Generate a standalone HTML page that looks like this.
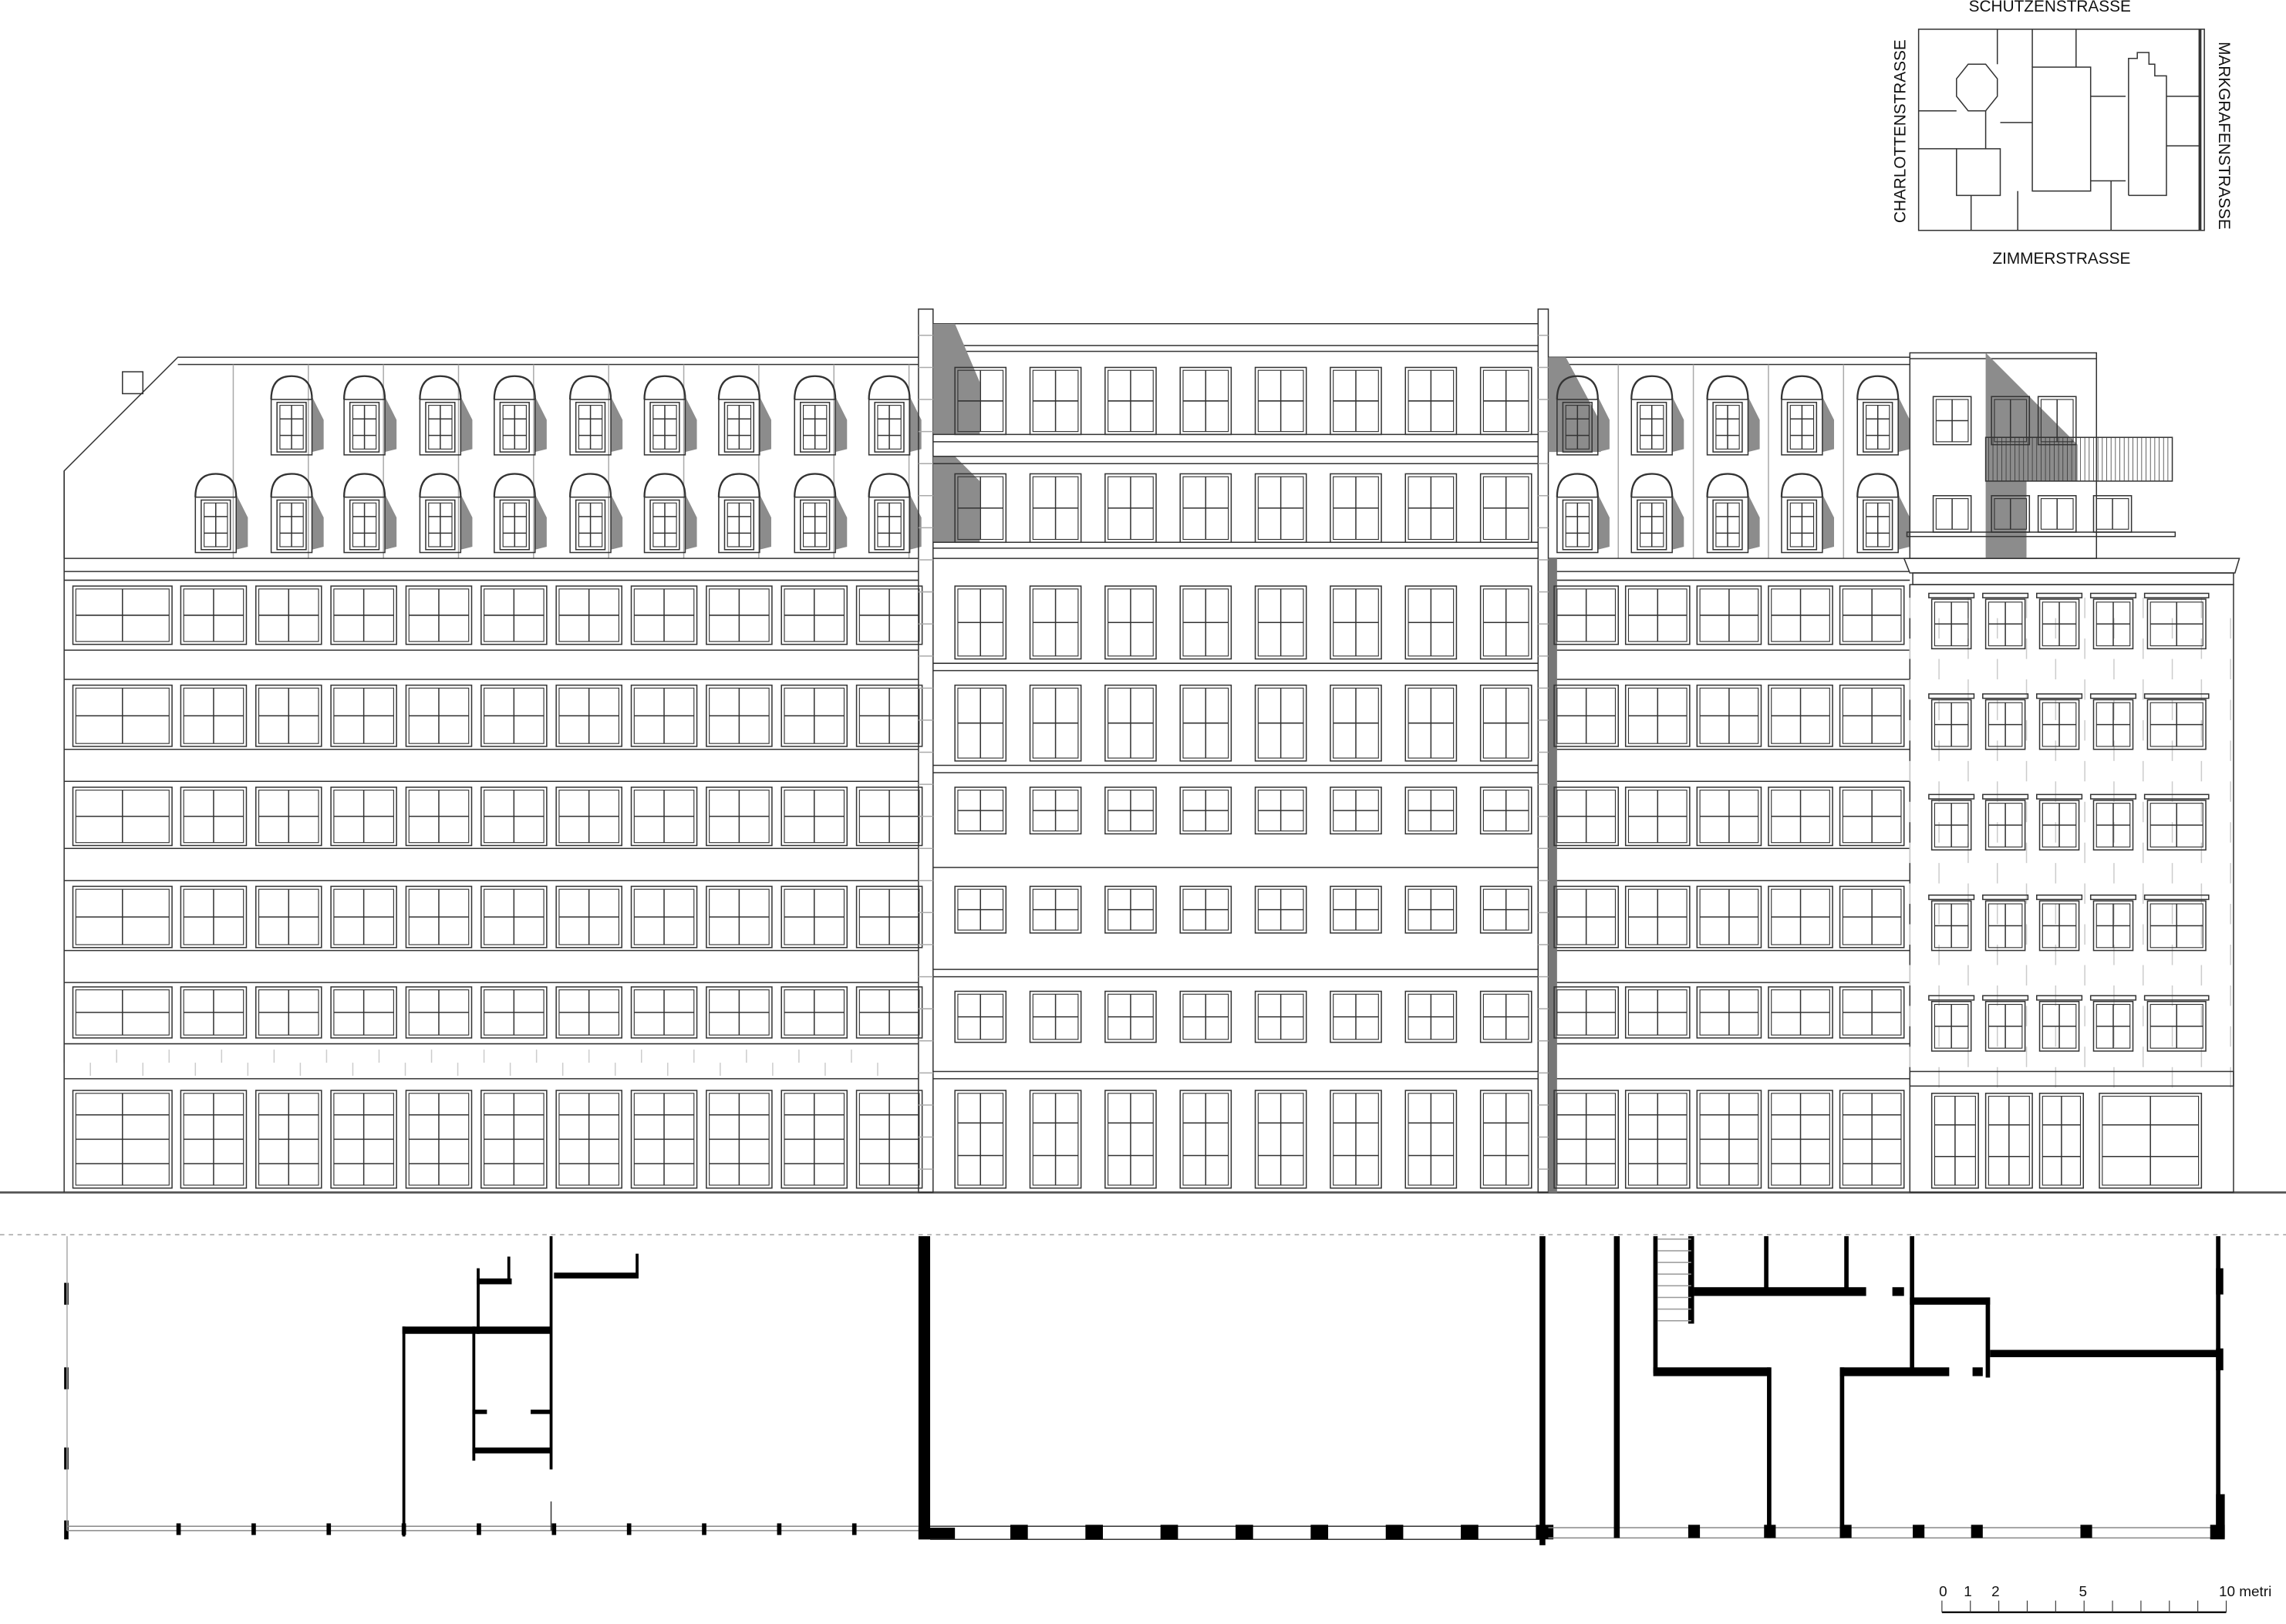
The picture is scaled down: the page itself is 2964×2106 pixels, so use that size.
<!DOCTYPE html>
<html><head><meta charset="utf-8">
<style>html,body{margin:0;padding:0;background:#fff;}svg{display:block}</style></head>
<body>
<svg id="s" width="2964" height="2106" viewBox="0 0 1568 1114" xmlns="http://www.w3.org/2000/svg" font-family="Liberation Sans, sans-serif">
<g id="g" fill="none" stroke="#333" stroke-width="0.8"></g>
<g fill="none" stroke="#333" stroke-width="0.8">
<rect x="1316" y="20" width="196" height="138"/>
<line x1="1509" y1="20" x2="1509" y2="158" stroke-width="2"/>
<polygon points="1350,44 1362,44 1370,54 1370,66 1362,76 1350,76 1342,66 1342,54"/>
<polyline points="1316,76 1342,76"/><polyline points="1370,44 1370,20"/>
<rect x="1342" y="102" width="30" height="32"/><polyline points="1316,102 1342,102"/><polyline points="1352,134 1352,158"/>
<polyline points="1362,76 1362,102"/><polyline points="1372,84 1394,84"/>
<rect x="1394" y="46" width="40" height="85"/><polyline points="1394,46 1394,20"/><polyline points="1384,131 1384,158"/>
<polyline points="1434,66 1458,66"/><polyline points="1434,124 1458,124"/><polyline points="1448,124 1448,158"/>
<polyline points="1460,134 1460,40 1466,40 1466,36 1474,36 1474,44 1478,44 1478,52 1486,52 1486,134 1460,134"/>
<polyline points="1486,66 1509,66"/><polyline points="1486,100 1509,100"/><polyline points="1424,20 1424,46"/>
</g>
<g font-size="11" fill="#111">
<text x="1406" y="8" text-anchor="middle">SCHUTZENSTRASSE</text>
<text x="1414" y="181" text-anchor="middle">ZIMMERSTRASSE</text>
<text transform="translate(1307,90) rotate(-90)" text-anchor="middle">CHARLOTTENSTRASSE</text>
<text transform="translate(1522,93) rotate(90)" text-anchor="middle">MARKGRAFENSTRASSE</text>
<text x="1330" y="1095" font-size="10">0</text><text x="1347" y="1095" font-size="10">1</text><text x="1366" y="1095" font-size="10">2</text><text x="1426" y="1095" font-size="10">5</text><text x="1522" y="1095" font-size="10">10 metri</text>
</g>
</svg>
<script>
(function(){
const g=document.getElementById('g');const NS='http://www.w3.org/2000/svg';
function E(t,a){const e=document.createElementNS(NS,t);for(const k in a)e.setAttribute(k,a[k]);g.appendChild(e);return e;}
function R(x,y,w,h,o){return E('rect',Object.assign({x:x,y:y,width:w,height:h},o||{}));}
function L(x1,y1,x2,y2,o){return E('line',Object.assign({x1:x1,y1:y1,x2:x2,y2:y2},o||{}));}
function P(pts,o){return E('polygon',Object.assign({points:pts},o||{}));}
const GR='#8c8c8c';
function win(x,y,w,h,rows){R(x,y,w,h);R(x+2,y+2,w-4,h-4,{'stroke-width':0.6});L(x+w/2,y+2,x+w/2,y+h-2);for(let i=1;i<rows;i++){L(x+2,y+h*i/rows,x+w-2,y+h*i/rows);}}
function dormer(cx,y){P(`${cx+14},${y+14} ${cx+22},${y+30} ${cx+22},${y+50} ${cx+14},${y+52}`,{fill:GR,stroke:'none'});E('path',{d:`M${cx-14},${y+16} Q${cx-14},${y} ${cx},${y} Q${cx+14},${y} ${cx+14},${y+16}`,'stroke-width':1.2});R(cx-14,y+16,28,38);win(cx-10,y+18,20,34,3);}
L(0,818,1568,818,{stroke:'#555','stroke-width':1.5});
L(0,847,1568,847,{stroke:'#aaa','stroke-dasharray':'3,3'});
// LEFT
E('polyline',{points:'44,383 44,323 122,245 630,245'});L(122,250,630,250);
R(84,255,14,15);
for(let x=160;x<630;x+=51.5)L(x,250,x,383,{stroke:'#aaa'});
const dTop=[200,250,302,353,405,456,507,559,610];dTop.forEach(c=>dormer(c,258));
[148].concat(dTop).forEach(c=>dormer(c,325));
[383,392,398,446,466,514,536,582,604,652,674,716,740].forEach(y=>L(44,y,630,y));
const rowsY=[[402,40],[470,42],[540,40],[608,42],[677,35],[748,67]];
rowsY.forEach(([y,h],ri)=>{win(50,y,68,h,ri==5?4:2);for(let i=0;i<10;i++)win(124+i*51.5,y,45,h,ri==5?4:2);});
for(let y=720;y<738;y+=9)for(let x=44;x<612;x+=36){const xx=x+((y-720)%18?18:0);L(xx,y,xx,y+9,{stroke:'#ccc'});}
L(44,323,44,818);
// MIDDLE
R(630,212,10,606);R(1055,212,7,606);
for(let y=230;y<818;y+=22){L(630,y,640,y,{stroke:'#aaa'});L(1055,y,1062,y,{stroke:'#aaa'});}
L(640,222,1055,222);L(640,237,1055,237);L(640,241,1055,241);
P('640,222 655,222 672,262 672,298 640,298',{fill:GR,stroke:'none'});
P('640,313 655,313 672,330 672,372 640,372',{fill:GR,stroke:'none'});
[298,303,313,318,372,376,383,455,460,525,530,595,665,670,735,740].forEach(y=>L(640,y,1055,y));
const mr=[[252,46,2],[325,47,2],[402,50,2],[470,52,2],[540,32,2],[608,32,2],[680,35,2],[748,67,3]];
mr.forEach(([y,h,r])=>{for(let i=0;i<8;i++)win(655+i*51.5,y,35,h,r);});
// RIGHT
L(1062,245,1310,245);L(1062,250,1310,250);
P('1062,245 1074,245 1098,290 1098,310 1062,310',{fill:GR,stroke:'none'});
for(let x=1110;x<1310;x+=51.5)L(x,250,x,383,{stroke:'#aaa'});
[1082,1133,1185,1236,1288].forEach(c=>{dormer(c,258);dormer(c,325);});
[383,392,398,446,466,514,536,582,604,652,674,716,740].forEach(y=>L(1062,y,1310,y));
R(1062,383,6,435,{fill:'#777',stroke:'none'});
rowsY.forEach(([y,h],ri)=>{for(let i=0;i<5;i++)win(1066+i*49,y,44,h,ri==5?4:2);});
// FAR RIGHT
R(1310,242,128,141);L(1310,246,1438,246);
P('1362,242 1425,305 1425,330 1390,330 1390,383 1362,383',{fill:GR,stroke:'none'});
R(1362,300,128,30);for(let x=1364;x<1490;x+=3)L(x,300,x,330,{'stroke-width':0.4});
R(1308,365,184,3);
win(1326,272,26,33,2);win(1366,272,26,33,1);win(1398,272,26,33,1);
win(1326,340,26,25,1);win(1366,340,26,25,1);win(1398,340,26,25,1);win(1436,340,26,25,1);
P('1306,383 1536,383 1533,393 1310,393',{});R(1312,393,220,8);
R(1310,401,222,417);
for(let y=410;y<734;y+=14)for(let x=1310;x<1512;x+=40){const xx=x+((y-410)%28?20:0);L(xx,y,xx,y+14,{stroke:'#ccc'});}
[1325,1362,1399,1436,1473].forEach((x,i)=>{const w=i==4?40:27;[407,476,545,614,683].forEach(y=>{R(x-2,y,w+4,3);win(x,y+4,w,34,2);});});
R(1310,735,222,10);win(1325,750,32,65,3);win(1362,750,32,65,3);win(1399,750,30,65,3);win(1440,750,70,65,3);
// FLOOR PLAN
function W(x,y,w,h){R(x,y,w,h,{fill:'#000',stroke:'none'});}
W(44,880,3,15);W(44,938,3,15);W(44,993,3,15);W(44,1043,3,13);L(46,848,46,1050,{stroke:'#aaa'});
L(46,1047,630,1047,{stroke:'#888'});L(46,1050,630,1050,{stroke:'#888'});
for(let x=122;x<630;x+=51.5)W(x-1,1045,3,8);
W(276,910,102,5);W(276,910,2,144);W(324,910,2,92);W(377,848,2,160);W(327,870,2,45);W(327,877,24,4);W(348,862,2,17);W(380,873,58,4);W(436,860,2,15);
W(324,967,10,3);W(364,967,14,3);W(324,993,54,4);L(378,1030,378,1050);
W(630,848,8,208);W(630,1048,25,8);L(638,1047,1056,1047);L(638,1056,1056,1056);
for(let x=693;x<1056;x+=51.5)W(x,1046,12,10);
W(1056,848,4,212);
L(1062,1048,1522,1048,{stroke:'#888'});L(1062,1055,1522,1055,{stroke:'#888'});
W(1107,848,4,207);W(1134,848,3,94);W(1158,848,4,60);W(1134,938,80,6);W(1162,883,118,6);W(1210,848,3,40);W(1265,848,3,40);W(1298,883,8,6);
W(1310,848,3,95);W(1310,890,55,5);W(1362,890,3,55);W(1365,926,158,5);W(1212,938,3,117);W(1262,938,3,117);W(1262,938,75,6);W(1353,938,7,6);
for(let y=850;y<910;y+=8)L(1137,y,1160,y,{stroke:'#999'});
W(1520,848,3,207);W(1520,870,5,18);W(1520,925,5,15);W(1520,1025,6,30);
[1158,1210,1262,1312,1352,1427].forEach(x=>W(x,1046,8,9));W(1516,1046,10,10);
L(1332,1106,1527,1106,{stroke:'#000','stroke-width':1.2});for(let i=0;i<=10;i++)L(1332+i*19.5,1098,1332+i*19.5,1106,{'stroke-width':0.6});
})();
</script>
</body></html>
